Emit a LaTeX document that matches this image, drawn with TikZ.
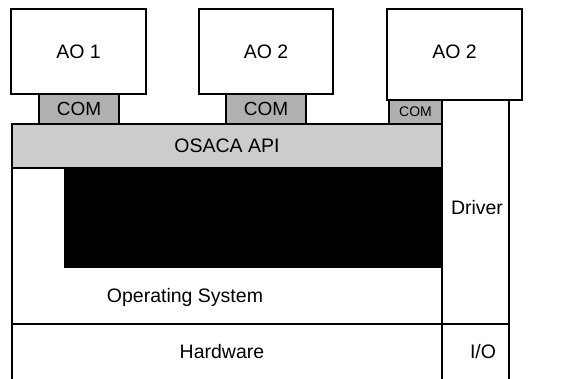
\documentclass[tikz,border=0pt]{standalone}
\usepackage{fontspec}
\setmainfont{Liberation Sans}
\usepackage{tikz}
\usetikzlibrary{positioning}

\begin{document}
\begin{tikzpicture}[
  x=1pt, y=-1pt,
  every node/.style={font=\fontsize{19.5}{22}\selectfont, inner sep=0pt, outer sep=0pt},
  box/.style={draw=black, line width=1.2pt, fill=white},
  com/.style={draw=black, line width=1.2pt, fill=gray!62, font=\fontsize{19}{22}\selectfont},
  api/.style={draw=black, line width=1.2pt, fill=gray!40, font=\fontsize{19.5}{22}\selectfont},
  core/.style={fill=black}
]
  \useasboundingbox (0,0) rectangle (566,379);

  % Anwendungsobjekte
  \node[box, minimum width=135, minimum height=85] (ao1) at (78.5, 51.5) {AO 1};
  \node[box, minimum width=134, minimum height=85] (ao2) at (266, 51.5) {AO 2};
  \node[box, minimum width=135, minimum height=91] (ao3) at (454.5, 54.5) {};
  \node (ao3text) at (454.5, 51.5) {AO 2};

  % Schichten
  \node[box, minimum width=67, minimum height=224] (drv) at (475.5, 212) {};
  \node[box, minimum width=430, minimum height=156] (os) at (227, 246) {};
  \node[core, minimum width=378, minimum height=100] (blk) at (253, 218) {};
  \node[box, minimum width=430, minimum height=57] (hw) at (227, 352.5) {};
  \node[box, minimum width=67, minimum height=57] (io) at (475.5, 352.5) {};
  \node[api, minimum width=430, minimum height=44] (api) at (227, 146) {OSACA API};

  % Kommunikation
  \node[com, minimum width=80, minimum height=30] (com1) at (79, 109) {COM};
  \node[com, minimum width=80, minimum height=30] (com2) at (266, 109) {COM};
  \node[com, minimum width=53, minimum height=24, font=\fontsize{14}{16}\selectfont] (com3) at (415.5, 112) {COM};

  % Beschriftungen
  \node (drvtext) at (477, 208) {Driver};
  \node (ostext) at (185, 297) {Operating System};
  \node (hwtext) at (222, 352) {Hardware};
  \node (iotext) at (483, 352) {I/O};

\end{tikzpicture}
\end{document}
